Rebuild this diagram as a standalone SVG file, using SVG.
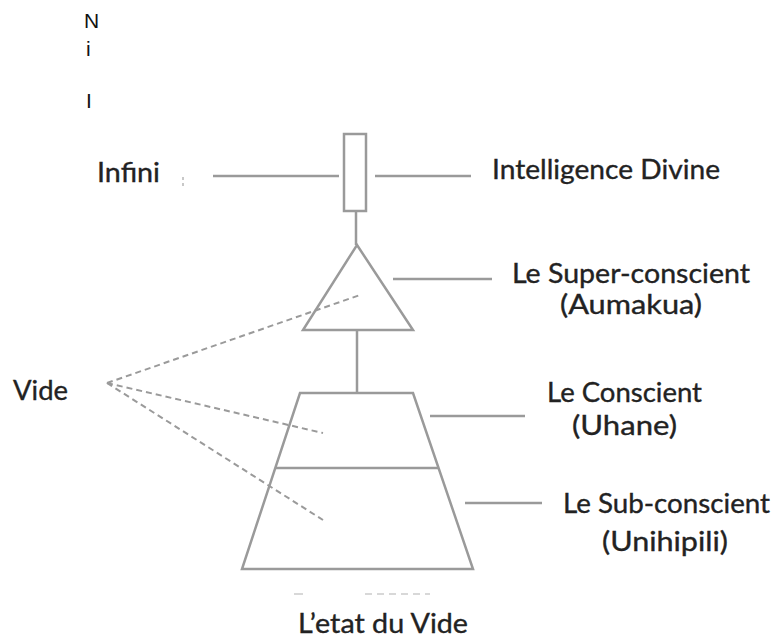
<svg xmlns="http://www.w3.org/2000/svg" width="777" height="639" viewBox="0 0 777 639">
<style>
.t{font-family:Lato,"Open Sans","Liberation Sans",sans-serif;font-size:27px;fill:#222;stroke:#222;stroke-width:0.35}
.a{font-family:"Liberation Sans",Arial,sans-serif;font-size:21px;fill:#111}
.s{fill:none;stroke:#9a9a9a;stroke-width:2.5}
.d{fill:none;stroke:#9a9a9a;stroke-width:2;stroke-dasharray:6 4}
</style>
<rect width="777" height="639" fill="#fff"/>
<g id="marks">
<text class="a" x="84" y="28">N</text>
<text class="a" x="86" y="56">i</text>
<text class="a" x="86" y="108">I</text>
</g>
<g id="connectors">
<line class="s" x1="213" y1="176" x2="339" y2="176"/>
<line class="s" x1="375" y1="176" x2="471" y2="176"/>
<line class="s" x1="356" y1="211" x2="356" y2="245"/>
<line class="s" x1="393" y1="279" x2="492" y2="279"/>
<line class="s" x1="357" y1="330" x2="357" y2="393"/>
<line class="s" x1="430" y1="416" x2="525" y2="416"/>
<line class="s" x1="465" y1="503" x2="542" y2="503"/>
<line class="d" x1="107" y1="383" x2="360" y2="295"/>
<line class="d" x1="107" y1="383" x2="323" y2="433"/>
<line class="d" x1="107" y1="383" x2="323" y2="520"/>
<line stroke="#d8d8d8" stroke-width="2" x1="294" y1="594" x2="303" y2="594"/>
<line stroke="#d8d8d8" stroke-width="2" stroke-dasharray="7 5" x1="365" y1="594" x2="430" y2="594"/>
<rect x="182" y="177" width="2" height="3" fill="#c8c8c8"/>
<rect x="182" y="183" width="2" height="3" fill="#c8c8c8"/>
</g>
<g id="infini-node">
<rect class="s" x="344" y="134" width="22" height="77"/>
</g>
<g id="super-conscient">
<polygon class="s" points="357,245 413,330 303,330"/>
</g>
<g id="conscient">
<polygon class="s" points="300,393 413,393 473,569 242,569"/>
<line class="s" x1="276" y1="468" x2="438" y2="468"/>
</g>
<g id="labels">
<text class="t" x="97" y="182" textLength="63" lengthAdjust="spacingAndGlyphs">Infini</text>
<text class="t" x="492" y="179" textLength="228" lengthAdjust="spacingAndGlyphs">Intelligence Divine</text>
<text class="t" x="512" y="283" textLength="238" lengthAdjust="spacingAndGlyphs">Le Super-conscient</text>
<text class="t" x="560" y="314" textLength="142" lengthAdjust="spacingAndGlyphs">(Aumakua)</text>
<text class="t" x="13" y="400" textLength="55" lengthAdjust="spacingAndGlyphs">Vide</text>
<text class="t" x="547" y="402" textLength="155" lengthAdjust="spacingAndGlyphs">Le Conscient</text>
<text class="t" x="572" y="435" textLength="105" lengthAdjust="spacingAndGlyphs">(Uhane)</text>
<text class="t" x="563" y="513" textLength="207" lengthAdjust="spacingAndGlyphs">Le Sub-conscient</text>
<text class="t" x="602" y="551" textLength="126" lengthAdjust="spacingAndGlyphs">(Unihipili)</text>
<text class="t" x="298" y="633" textLength="170" lengthAdjust="spacingAndGlyphs">L’etat du Vide</text>
</g>
</svg>
